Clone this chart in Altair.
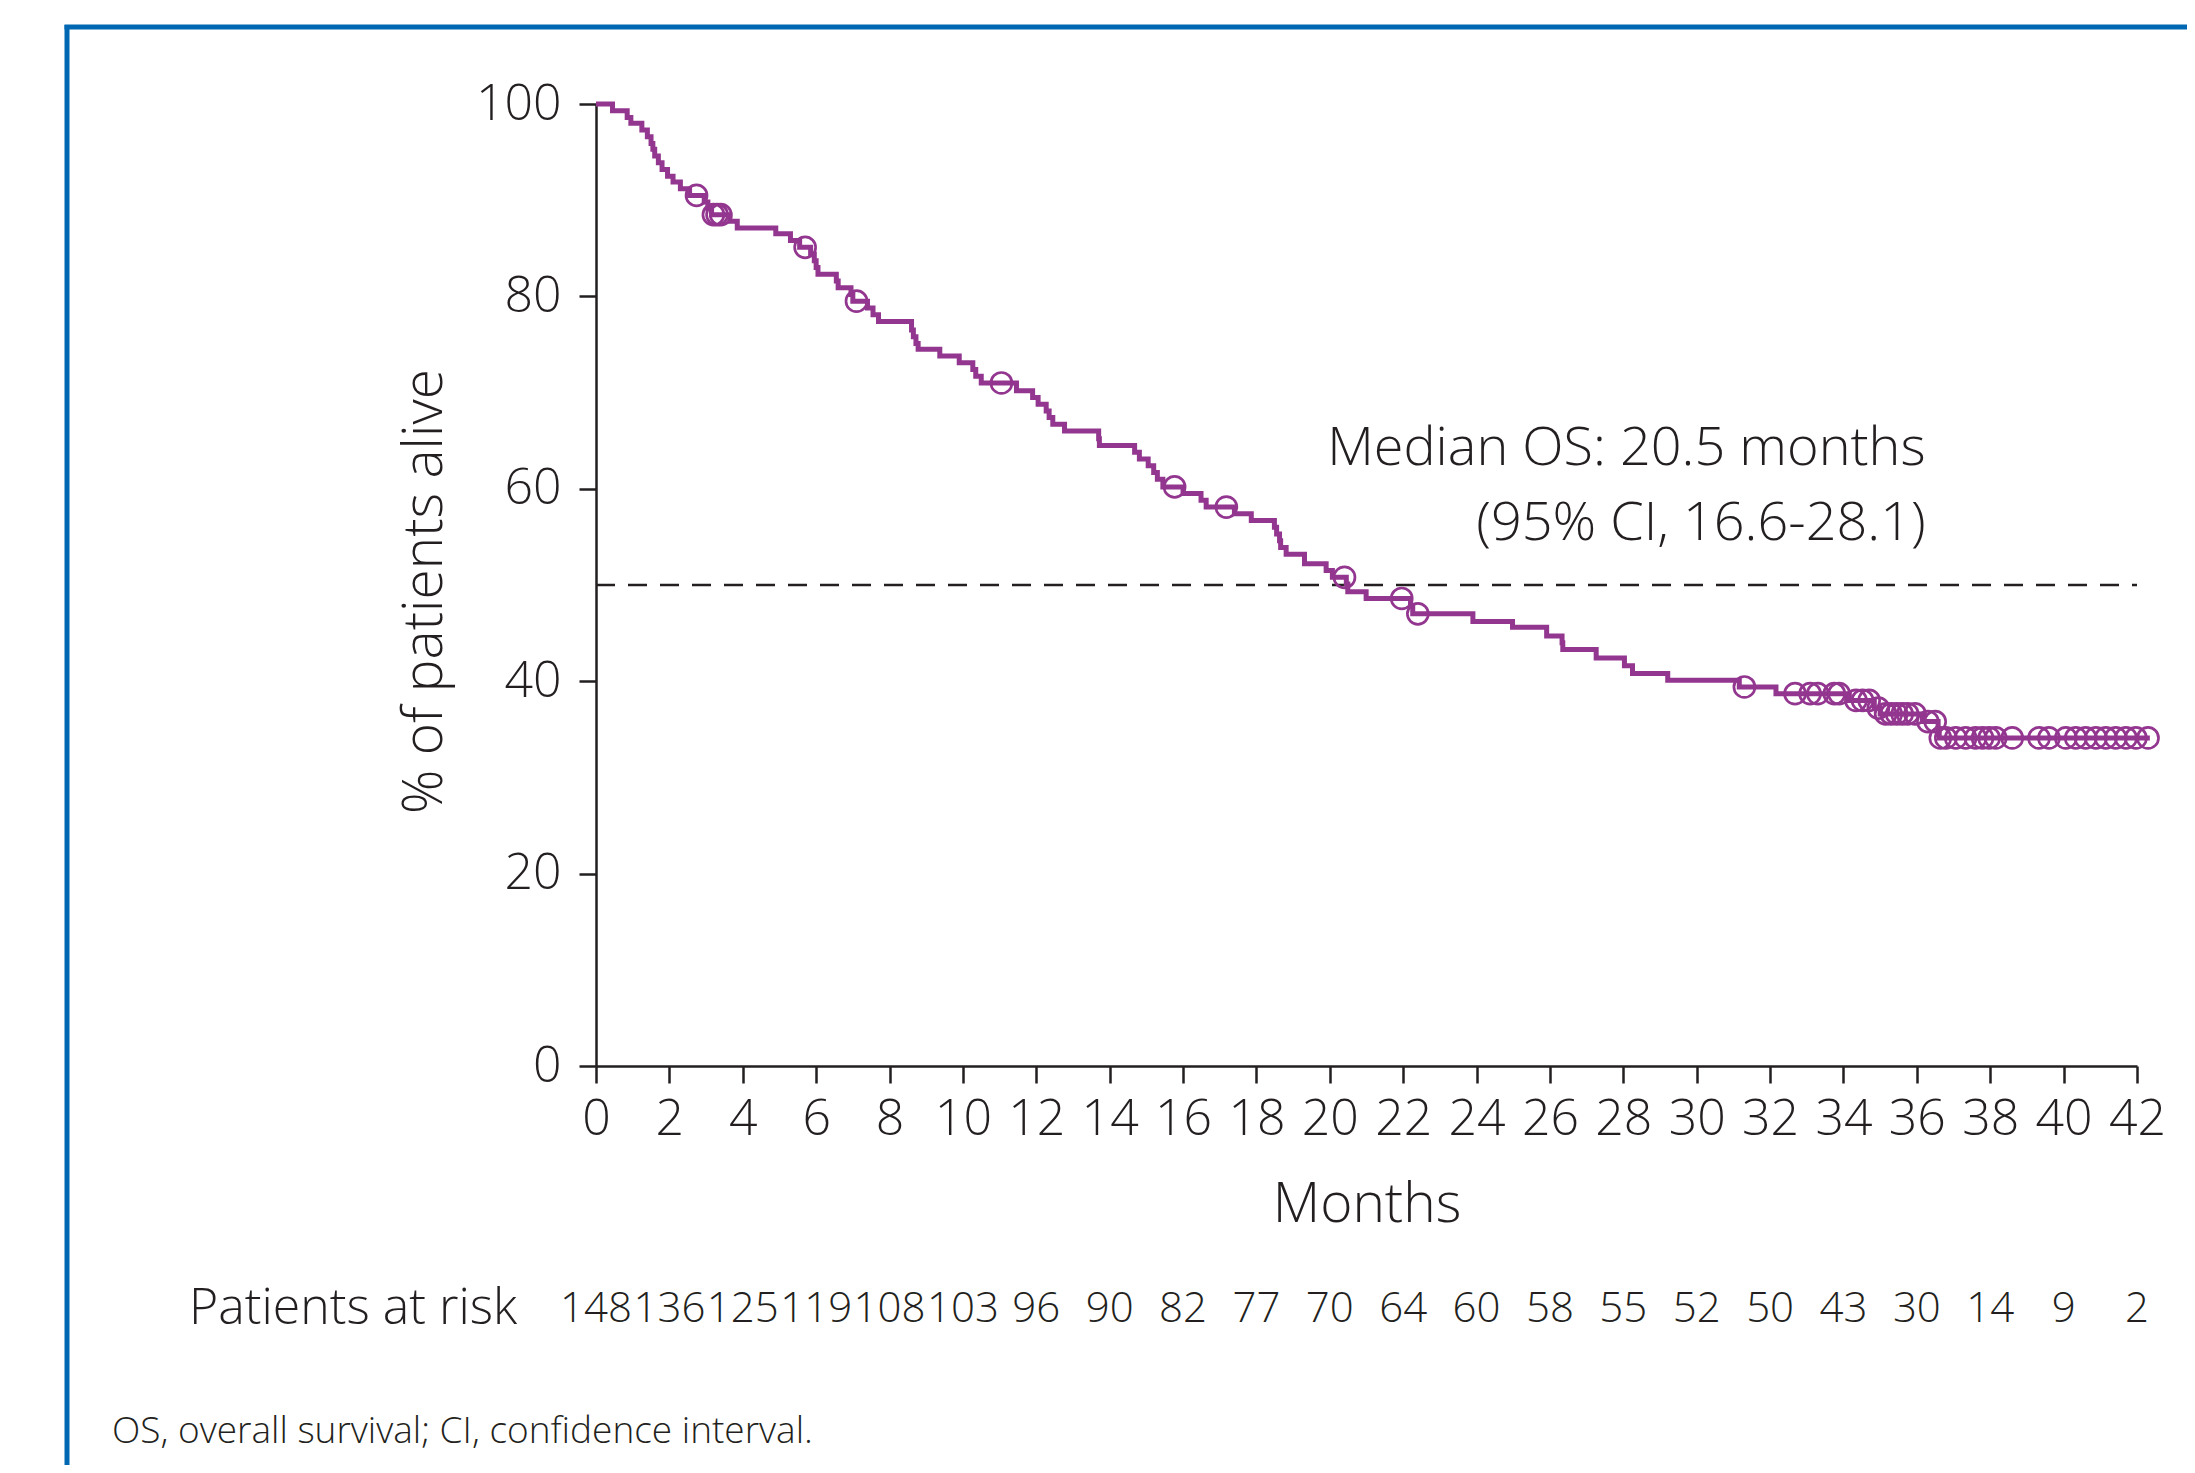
import altair as alt
import pandas as pd

# ---- Kaplan-Meier step curve (month of event, % alive after event) ----
step_months = [0, 0.45, 0.85, 0.95, 1.25, 1.4, 1.5, 1.55, 1.6, 1.7, 1.8, 1.95, 2.1, 2.3,
               2.55, 2.95, 3.05, 3.15, 3.65, 3.85, 4.9, 5.3, 5.55, 5.85, 5.95, 6.0, 6.05,
               6.55, 6.6, 6.95, 7.0, 7.4, 7.55, 7.7, 8.6, 8.65, 8.72, 8.78, 9.37, 9.9,
               10.27, 10.35, 10.5, 11.46, 11.9, 12.05, 12.27, 12.35, 12.45, 12.77, 13.7,
               13.72, 14.68, 14.81, 15.05, 15.2, 15.3, 15.45, 16.0, 16.49, 16.63, 17.4,
               17.86, 18.49, 18.55, 18.63, 18.66, 18.81, 19.31, 19.9, 20.07, 20.45, 20.49,
               20.99, 22.2, 22.26, 23.9, 24.98, 25.91, 26.33, 26.35, 27.26, 28.03, 28.25,
               29.21, 31.16, 32.16, 34.16, 34.84, 35.0, 36.15, 36.58, 36.61, 42.35]
step_surv = [100, 99.3, 98.6, 98.0, 97.3, 96.6, 95.9, 95.3, 94.6, 93.9, 93.2, 92.5, 91.9, 91.2,
             90.5, 89.8, 89.1, 88.5, 87.8, 87.1, 86.5, 85.8, 85.1, 84.4, 83.7, 83.0, 82.3,
             81.6, 80.9, 80.2, 79.5, 78.8, 78.1, 77.4, 76.5, 75.8, 75.1, 74.5, 73.8, 73.1,
             72.4, 71.7, 71.0, 70.2, 69.5, 68.8, 68.1, 67.4, 66.7, 66.0, 65.2,
             64.5, 63.8, 63.1, 62.4, 61.7, 61.0, 60.2, 59.5, 58.8, 58.1, 57.4,
             56.7, 56.0, 55.3, 54.6, 53.9, 53.2, 52.2, 51.5, 50.8, 50.1, 49.3,
             48.6, 47.8, 47.0, 46.2, 45.6, 44.7, 44.0, 43.3, 42.4, 41.6, 40.8,
             40.1, 39.4, 38.7, 38.0, 37.2, 36.6, 35.8, 35.0, 34.1, 34.1]

# ---- censored observations (months) ----
censor_months = [2.74, 3.2, 3.3, 3.4, 5.7, 7.1, 11.05, 15.77, 17.18, 20.4, 21.96, 22.4,
                 31.3, 32.68, 33.09, 33.3, 33.75, 33.88, 34.34, 34.52, 34.7, 34.95, 35.15,
                 35.3, 35.45, 35.6, 35.75, 35.95, 36.3, 36.5, 36.64, 36.79, 37.06, 37.33,
                 37.6, 37.79, 37.97, 38.15, 38.6, 39.33, 39.6, 40.06, 40.33, 40.6, 40.88,
                 41.15, 41.42, 41.7, 41.97, 42.3]

# ---- patients at risk ----
risk_months = list(range(0, 43, 2))
risk_counts = [148, 136, 125, 119, 108, 103, 96, 90, 82, 77, 70, 64, 60, 58, 55, 52, 50,
               43, 30, 14, 9, 2]

median_os_line = [50]
annot_lines = ["Median OS: 20.5 months", "(95% CI, 16.6-28.1)"]
annot_x = [36.24, 36.24]
annot_y = [62.45, 54.65]

FONT = "Open Sans"
INK = "#231F20"
PURPLE = "#93368F"
BLUE = "#0068B2"
FS = 50


def surv_at(t):
    s = step_surv[0]
    for m, v in zip(step_months, step_surv):
        if m <= t:
            s = v
    return s


curve_df = pd.DataFrame({"month": step_months, "surv": step_surv})
cens_df = pd.DataFrame({"month": censor_months,
                        "surv": [surv_at(t) for t in censor_months]})
risk_df = pd.DataFrame({"month": risk_months, "n": [str(v) for v in risk_counts]})
med_df = pd.DataFrame({"x0": [0], "x1": [42], "y": median_os_line})
annot_df = pd.DataFrame({"x": annot_x, "y": annot_y, "t": annot_lines})

xscale = alt.Scale(domain=[0, 42], nice=False, zero=False)
yscale = alt.Scale(domain=[0, 100], nice=False)

xaxis = alt.Axis(values=risk_months, title="Months", grid=False, labelOverlap=False,
                 labelFlush=False, labelFont=FONT, labelFontSize=FS, labelFontWeight=300,
                 labelColor=INK, labelBaseline="alphabetic", labelPadding=51,
                 tickSize=17, tickWidth=2.5, tickColor=INK, domainColor=INK, domainWidth=2.5,
                 titleFont=FONT, titleFontSize=55, titleFontWeight=300, titleColor=INK,
                 titleBaseline="alphabetic", titleY=155)
yaxis = alt.Axis(values=[0, 20, 40, 60, 80, 100], title="% of patients alive", grid=False,
                 labelFont=FONT, labelFontSize=FS, labelFontWeight=300, labelColor=INK,
                 labelPadding=18, tickSize=17, tickWidth=2.5, tickColor=INK,
                 domainColor=INK, domainWidth=2.5,
                 titleFont=FONT, titleFontSize=55, titleFontWeight=300, titleColor=INK,
                 titleAngle=270, titleBaseline="middle", titleAlign="center",
                 titleX=-172, titleY=487)

curve = alt.Chart(curve_df).mark_line(interpolate="step-after", color=PURPLE,
                                      strokeWidth=5, clip=False).encode(
    x=alt.X("month:Q", scale=xscale, axis=xaxis),
    y=alt.Y("surv:Q", scale=yscale, axis=yaxis),
)

cens = alt.Chart(cens_df).mark_point(shape="circle", filled=False, color=PURPLE,
                                     size=440, strokeWidth=2.7, opacity=1, clip=False).encode(
    x="month:Q", y="surv:Q")

median_rule = alt.Chart(med_df).mark_rule(color=INK, strokeWidth=2.3,
                                          strokeDash=[19, 13]).encode(
    x="x0:Q", x2="x1:Q", y="y:Q")

annot = alt.Chart(annot_df).mark_text(align="right", baseline="alphabetic", font=FONT,
                                      fontSize=54, fontWeight=300, color=INK).encode(
    x="x:Q", y="y:Q", text="t:N")

risk_nums = alt.Chart(risk_df).mark_text(align="center", baseline="alphabetic", font=FONT,
                                         fontSize=42, fontWeight=300, color=INK).encode(
    x="month:Q", y=alt.value(1218), text="n:N")

risk_label = alt.Chart(pd.DataFrame({"t": ["Patients at risk"]})).mark_text(
    align="left", baseline="alphabetic", font=FONT, fontSize=FS, fontWeight=300,
    color=INK).encode(x=alt.value(-407), y=alt.value(1220), text="t:N")

footnote = alt.Chart(pd.DataFrame({"t": ["OS, overall survival; CI, confidence interval."]})).mark_text(
    align="left", baseline="alphabetic", font=FONT, fontSize=37, fontWeight=300,
    color=INK).encode(x=alt.value(-484), y=alt.value(1339), text="t:N")

frame_v = alt.Chart(pd.DataFrame({"k": [0]})).mark_rule(color=BLUE, strokeWidth=5).encode(
    x=alt.value(-529), y=alt.value(-79), y2=alt.value(1500))
frame_h = alt.Chart(pd.DataFrame({"k": [0]})).mark_rule(color=BLUE, strokeWidth=5).encode(
    x=alt.value(-531.5), x2=alt.value(1700), y=alt.value(-77))

chart = alt.layer(frame_v, frame_h, median_rule, curve, cens, annot, risk_nums, risk_label,
                  footnote).properties(
    width=1541, height=962,
    padding={"left": 588, "top": 96, "right": 50, "bottom": 399},
    autosize=alt.AutoSizeParams(type="none"),
).configure(background="white").configure_view(stroke=None, strokeWidth=0)

chart.save("out.html", embed_options={"renderer": "svg", "actions": False})
